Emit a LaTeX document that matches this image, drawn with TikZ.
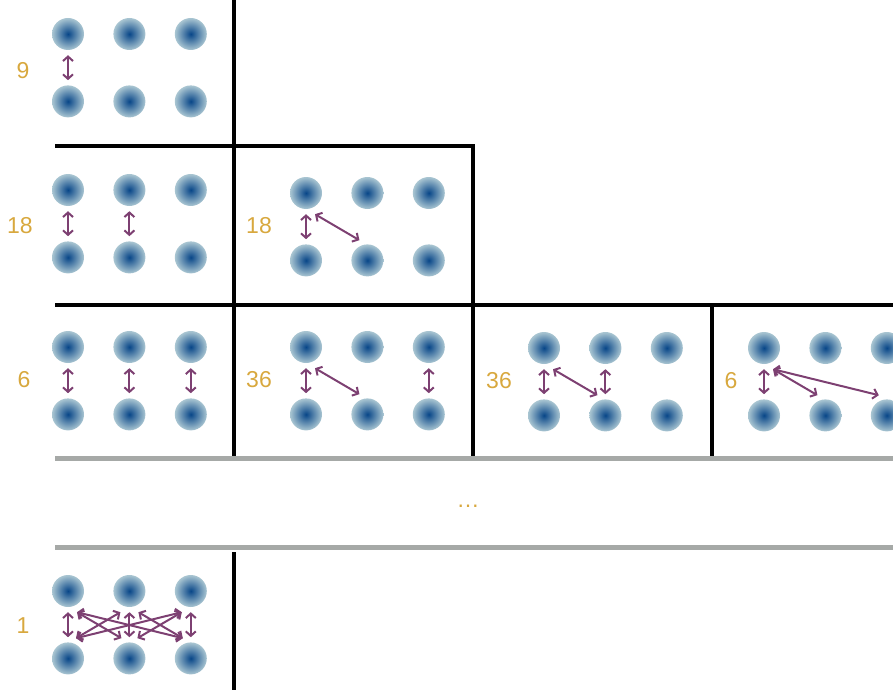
\documentclass[tikz,border=0pt]{standalone}
\usepackage{fontspec}
\setmainfont{Liberation Sans}
\usetikzlibrary{positioning, arrows.meta}

\definecolor{balldark}{RGB}{8,70,136}
\definecolor{balllight}{RGB}{170,198,210}
\definecolor{plum}{RGB}{125,64,114}
\definecolor{labelgold}{RGB}{216,168,62}
\definecolor{bandgray}{RGB}{166,169,167}
\pgfdeclareradialshading{ballshade}{\pgfpoint{0bp}{0bp}}{color(0bp)=(balldark); color(25bp)=(balllight); color(50bp)=(balllight)}

% two rows of three balls, named <prefix>t1..t3 (top) and <prefix>b1..b3 (bottom)
\newcommand{\ballgrid}[3]{%
  \node[ball] (#1t1) at (#2,#3) {};
  \node[ball, right=of #1t1] (#1t2) {};
  \node[ball, right=of #1t2] (#1t3) {};
  \node[ball, below=of #1t1] (#1b1) {};
  \node[ball, below=of #1t2] (#1b2) {};
  \node[ball, below=of #1t3] (#1b3) {};
}

\begin{document}
\begin{tikzpicture}[x=1pt, y=-1pt, node distance=35pt and 29pt]
  \tikzstyle{ball}=[circle, minimum size=32pt, inner sep=0pt, shade, shading=ballshade]
  \tikzstyle{link}=[plum, line width=2pt, {Straight Barb[length=4.5pt, width=10pt]}-{Straight Barb[length=4.5pt, width=10pt]}]
  \tikzstyle{mult}=[text=labelgold, font=\fontsize{23}{23}\selectfont]
  \tikzstyle{divider}=[line width=3.2pt]
  \tikzstyle{bandline}=[line width=5pt, bandgray]
  \useasboundingbox (0,0) rectangle (893,695);

  % panel borders
  \draw[divider] (234,0) -- (234,456);
  \draw[divider] (55,146) -- (473,146) -- (473,456);
  \draw[divider] (55,305) -- (893,305);
  \draw[divider] (712,305) -- (712,456);
  \draw[divider] (234,552) -- (234,690);
  \draw[bandline] (55,458) -- (893,458);
  \draw[bandline] (55,547) -- (893,547);

  \ballgrid{p9}{68}{34}
  \ballgrid{p18a}{68}{190}
  \ballgrid{p18b}{306}{193}
  \ballgrid{p6a}{68}{347}
  \ballgrid{p36a}{306}{347}
  \ballgrid{p36b}{544}{348}
  \ballgrid{p6b}{764}{348}
  \ballgrid{p1}{68}{591}

  \node[mult] (n9) at (23,71) {9};
  \node[mult] (n18a) at (20,226) {18};
  \node[mult] (n18b) at (259,226) {18};
  \node[mult] (n6a) at (24,380) {6};
  \node[mult] (n36a) at (259,380) {36};
  \node[mult] (n36b) at (499,381) {36};
  \node[mult] (n6b) at (731,381) {6};
  \node[mult] (n1) at (23,626) {1};
  \node[mult] (more) at (468,506) {…};

  \draw[link] ([yshift=-5pt]p9t1.south) -- ([yshift=5pt]p9b1.north);

  \draw[link] ([yshift=-5pt]p18at1.south) -- ([yshift=5pt]p18ab1.north);
  \draw[link] ([yshift=-5pt]p18at2.south) -- ([yshift=5pt]p18ab2.north);
  \draw[link] ([yshift=-5pt]p18bt1.south) -- ([yshift=5pt]p18bb1.north);
  \draw[link] ([shift={(9pt,-5pt)}]p18bt1.south) -- ([shift={(-8pt,4pt)}]p18bb2.north);

  \draw[link] ([yshift=-5pt]p6at1.south) -- ([yshift=5pt]p6ab1.north);
  \draw[link] ([yshift=-5pt]p6at2.south) -- ([yshift=5pt]p6ab2.north);
  \draw[link] ([yshift=-5pt]p6at3.south) -- ([yshift=5pt]p6ab3.north);
  \draw[link] ([yshift=-5pt]p36at1.south) -- ([yshift=5pt]p36ab1.north);
  \draw[link] ([shift={(9pt,-5pt)}]p36at1.south) -- ([shift={(-8pt,4pt)}]p36ab2.north);
  \draw[link] ([yshift=-5pt]p36at3.south) -- ([yshift=5pt]p36ab3.north);
  \draw[link] ([yshift=-5pt]p36bt1.south) -- ([yshift=5pt]p36bb1.north);
  \draw[link] ([shift={(9pt,-5pt)}]p36bt1.south) -- ([shift={(-8pt,4pt)}]p36bb2.north);
  \draw[link] ([yshift=-5pt]p36bt2.south) -- ([yshift=5pt]p36bb2.north);
  \draw[link] ([yshift=-5pt]p6bt1.south) -- ([yshift=5pt]p6bb1.north);
  \draw[link] ([shift={(9pt,-5pt)}]p6bt1.south) -- ([shift={(-8pt,4pt)}]p6bb2.north);
  \draw[link] ([shift={(9pt,-5pt)}]p6bt1.south) -- ([shift={(-8pt,4pt)}]p6bb3.north);

  \draw[link] ([yshift=-5pt]p1t1.south) -- ([yshift=5pt]p1b1.north);
  \draw[link] ([yshift=-5pt]p1t2.south) -- ([yshift=5pt]p1b2.north);
  \draw[link] ([yshift=-5pt]p1t3.south) -- ([yshift=5pt]p1b3.north);
  \draw[link] ([shift={(9pt,-5pt)}]p1t1.south) -- ([shift={(-8pt,4pt)}]p1b2.north);
  \draw[link] ([shift={(9pt,-5pt)}]p1t1.south) -- ([shift={(-8pt,4pt)}]p1b3.north);
  \draw[link] ([shift={(9pt,-5pt)}]p1t2.south) -- ([shift={(-8pt,4pt)}]p1b3.north);
  \draw[link] ([shift={(-9pt,-5pt)}]p1t2.south) -- ([shift={(8pt,4pt)}]p1b1.north);
  \draw[link] ([shift={(-9pt,-5pt)}]p1t3.south) -- ([shift={(8pt,4pt)}]p1b1.north);
  \draw[link] ([shift={(-9pt,-5pt)}]p1t3.south) -- ([shift={(8pt,4pt)}]p1b2.north);
\end{tikzpicture}
\end{document}
